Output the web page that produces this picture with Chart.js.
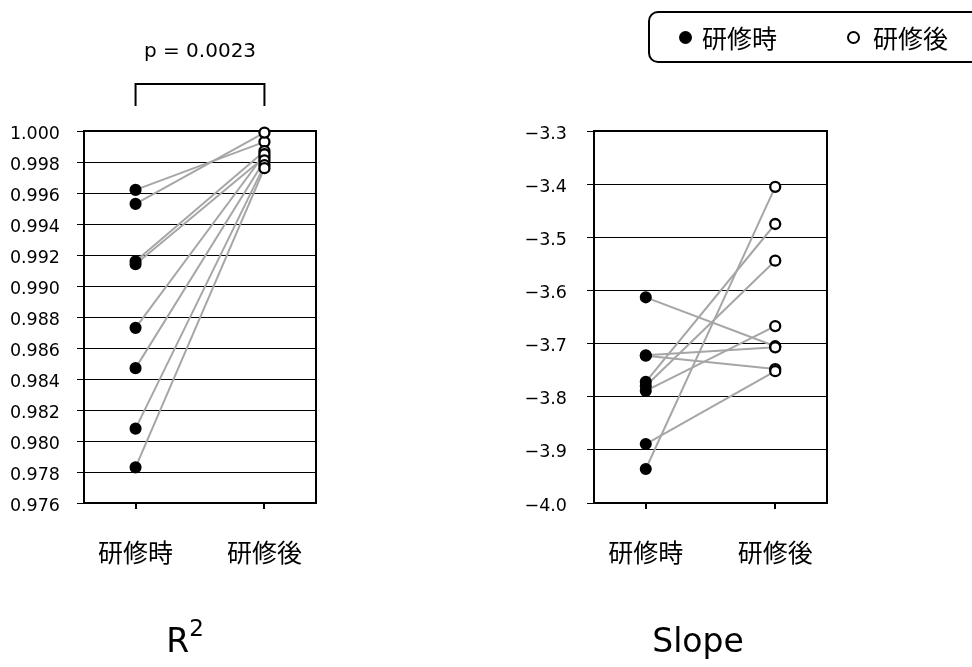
<!DOCTYPE html>
<html>
<head>
<meta charset="utf-8">
<script src="https://cdn.jsdelivr.net/npm/chart.js@4.4.1/dist/chart.umd.min.js"></script>
<style>
  html, body { margin:0; padding:0; background:#fff; }
  body { width:972px; height:667px; position:relative; overflow:hidden; }
  canvas { position:absolute; top:0; }
  #c1 { left:0; }
  #c2 { left:486px; }
  #legend { position:absolute; left:648px; top:11px; width:340px; height:48px;
            border:2px solid #000; border-radius:10px; box-sizing:content-box; }
  .li { position:absolute; top:0; height:48px; line-height:48px;
        font-family:'Noto Sans CJK JP', sans-serif; font-size:25px; color:#000; }
  .dot { position:absolute; width:13px; height:13px; border-radius:50%; box-sizing:border-box; top:18px; }
</style>
</head>
<body>
<canvas id="c1" width="486" height="667"></canvas>
<canvas id="c2" width="486" height="667"></canvas>
<div id="legend">
  <span class="dot" style="left:29px;background:#000;"></span>
  <span class="li" style="left:52px;" id="lg0"></span>
  <span class="dot" style="left:197px;background:#fff;border:2px solid #000;"></span>
  <span class="li" style="left:223px;" id="lg1"></span>
</div>
<script>
// ---- data ----
const categories = ['研修時', '研修後'];
const r2Before = [0.9962, 0.9953, 0.9916, 0.9914, 0.9873, 0.9847, 0.9808, 0.9783];
const r2After  = [0.9993, 0.9999, 0.9987, 0.9983, 0.9985, 0.9981, 0.9978, 0.9976];
const slopeBefore = [-3.613, -3.722, -3.723, -3.772, -3.780, -3.789, -3.889, -3.936];
const slopeAfter  = [-3.705, -3.707, -3.748, -3.475, -3.544, -3.667, -3.752, -3.405];
const r2TickLabels = ['0.976','0.978','0.980','0.982','0.984','0.986','0.988','0.990','0.992','0.994','0.996','0.998','1.000'];
const slopeTickLabels = ['−4.0','−3.9','−3.8','−3.7','−3.6','−3.5','−3.4','−3.3'];
const chartTitles = [['R', '2'], ['Slope', '']];
const pValueText = 'p = 0.0023';

document.getElementById('lg0').textContent = categories[0];
document.getElementById('lg1').textContent = categories[1];

const toNum = s => parseFloat(s.replace('−', '-'));

function makeChart(id, o) {
  const tickVals = o.tickLabels.map(toNum);
  const datasets = [
    { label: categories[0], data: o.before.map(v => ({x: 0, y: v})), showLine: false,
      pointRadius: 5.3, pointBackgroundColor: '#000', pointBorderColor: '#000', pointBorderWidth: 1.5,
      order: 0, clip: false },
    { label: categories[1], data: o.after.map(v => ({x: 1, y: v})), showLine: false,
      pointRadius: 5, pointBackgroundColor: '#fff', pointBorderColor: '#000', pointBorderWidth: 2.3,
      order: 1, clip: false }
  ];
  o.before.forEach((b, i) => {
    datasets.push({ label: 'pair' + i, data: [{x: 0, y: b}, {x: 1, y: o.after[i]}], showLine: true,
      borderColor: '#a6a6a6', borderWidth: 2, pointRadius: 0, order: 2, clip: false });
  });

  const framePlugin = {
    id: 'frame',
    beforeDatasetsDraw(chart) {
      const {ctx, chartArea: a} = chart;
      ctx.save();
      ctx.strokeStyle = '#000';
      ctx.lineWidth = 2;
      ctx.beginPath();
      ctx.moveTo(a.left, a.top); ctx.lineTo(a.right, a.top); ctx.lineTo(a.right, a.bottom);
      ctx.stroke();
      ctx.restore();
    },
    afterDraw(chart) {
      const ctx = chart.ctx;
      ctx.save();
      ctx.fillStyle = '#000';
      ctx.textBaseline = 'alphabetic';
      ctx.font = '33px "DejaVu Sans"';
      const main = o.title[0], sup = o.title[1];
      const wMain = ctx.measureText(main).width;
      ctx.font = '23px "DejaVu Sans"';
      const wSup = sup ? ctx.measureText(sup).width : 0;
      const startX = o.titleX - (wMain + wSup) / 2;
      ctx.textAlign = 'left';
      ctx.font = '33px "DejaVu Sans"';
      ctx.fillText(main, startX, 652);
      if (sup) {
        ctx.font = '23px "DejaVu Sans"';
        ctx.fillText(sup, startX + wMain, 636);
      }
      if (o.bracket) {
        const x0 = chart.scales.x.getPixelForValue(0);
        const x1 = chart.scales.x.getPixelForValue(1);
        ctx.strokeStyle = '#000';
        ctx.lineWidth = 2;
        ctx.beginPath();
        ctx.moveTo(x0, 106); ctx.lineTo(x0, 84); ctx.lineTo(x1, 84); ctx.lineTo(x1, 106);
        ctx.stroke();
        ctx.textAlign = 'center';
        ctx.textBaseline = 'middle';
        ctx.font = '20px "DejaVu Sans"';
        ctx.fillText(o.bracket, (x0 + x1) / 2, 52);
      }
      ctx.restore();
    }
  };

  return new Chart(document.getElementById(id), {
    type: 'scatter',
    data: { datasets },
    plugins: [framePlugin],
    options: {
      responsive: false,
      animation: false,
      devicePixelRatio: 1,
      layout: { padding: { top: 131, right: o.padRight, left: 0, bottom: 0 } },
      plugins: { legend: { display: false }, tooltip: { enabled: false }, title: { display: false } },
      scales: {
        x: {
          type: 'linear', position: 'bottom', min: -0.4, max: 1.4,
          afterBuildTicks: s => { s.ticks = categories.map((c, i) => ({value: i})); },
          afterFit: s => { s.height = 164; },
          grid: { display: true, drawOnChartArea: false, drawTicks: true, tickLength: 6, color: '#000', lineWidth: 2 },
          border: { display: true, color: '#000', width: 2 },
          ticks: { callback: v => categories[v], padding: 28, color: '#000', maxRotation: 0,
                   font: { family: '"Noto Sans CJK JP"', size: 25 } }
        },
        y: {
          type: 'linear', min: o.yMin, max: o.yMax,
          afterBuildTicks: s => { s.ticks = tickVals.map(v => ({value: v})); },
          afterFit: s => { s.width = o.yWidth; },
          grid: { display: true, drawOnChartArea: true, drawTicks: true, tickLength: 7, color: '#000', lineWidth: 1 },
          border: { display: true, color: '#000', width: 2 },
          ticks: { callback: (v, i) => o.tickLabels[i], padding: o.tickPad, color: '#000', labelOffset: 3,
                   font: { family: '"DejaVu Sans"', size: 17.5 } }
        }
      }
    }
  });
}

makeChart('c1', { before: r2Before, after: r2After, tickLabels: r2TickLabels,
  yMin: 0.976, yMax: 1.000, yWidth: 84, padRight: 170, tickPad: 17,
  title: chartTitles[0], titleX: 185, bracket: pValueText });
makeChart('c2', { before: slopeBefore, after: slopeAfter, tickLabels: slopeTickLabels,
  yMin: -4.0, yMax: -3.3, yWidth: 108, padRight: 145, tickPad: 20,
  title: chartTitles[1], titleX: 212, bracket: null });
</script>
</body>
</html>
